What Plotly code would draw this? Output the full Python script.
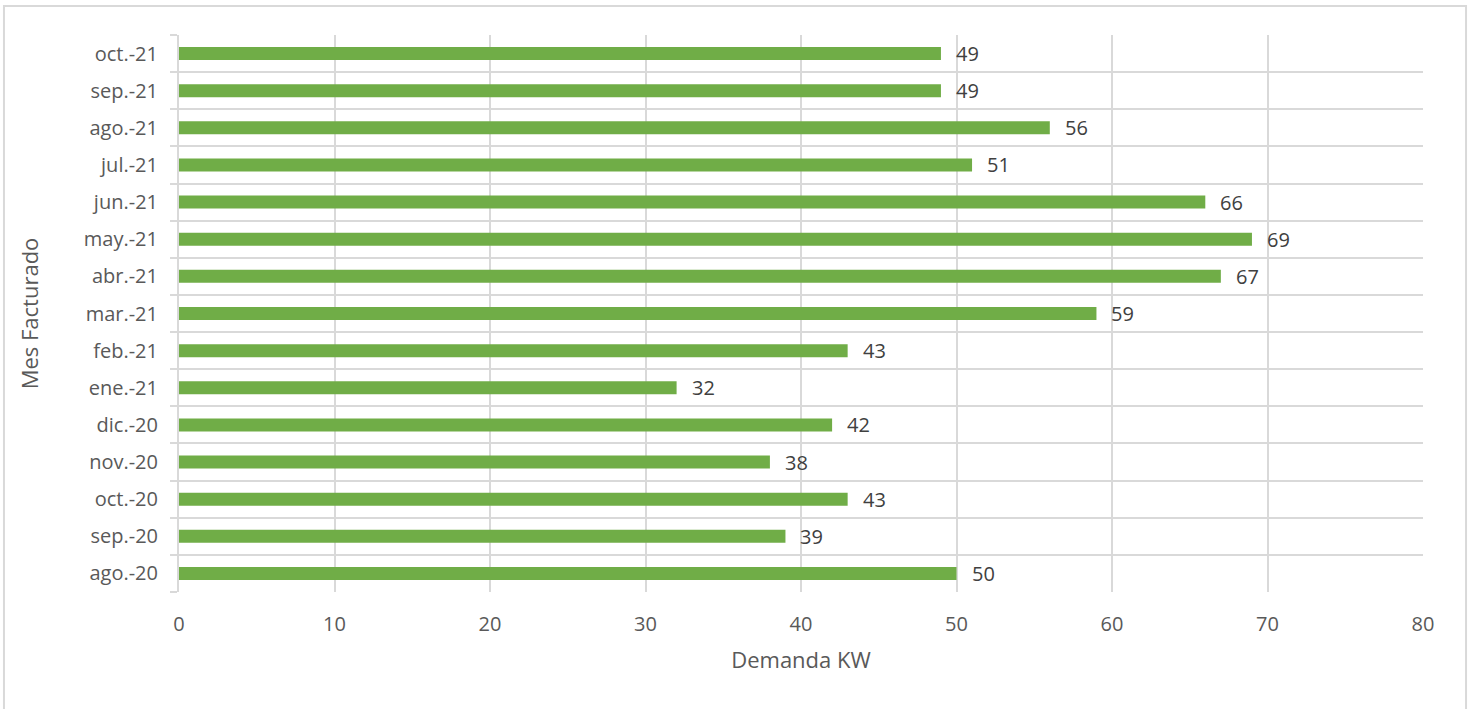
import plotly.graph_objects as go

# Monthly billed demand (kW), oldest month first
meses = ["ago.-20", "sep.-20", "oct.-20", "nov.-20", "dic.-20", "ene.-21", "feb.-21",
         "mar.-21", "abr.-21", "may.-21", "jun.-21", "jul.-21", "ago.-21", "sep.-21", "oct.-21"]
demanda_kw = [50, 39, 43, 38, 42, 32, 43, 59, 67, 69, 66, 51, 56, 49, 49]
x_ticks = [0, 10, 20, 30, 40, 50, 60, 70, 80]

FONT = "Open Sans, Segoe UI, sans-serif"
GRID = "#D9D9D9"
n = len(meses)
pos = list(range(n))

fig = go.Figure()
fig.add_trace(go.Bar(
    x=demanda_kw, y=pos, orientation="h",
    width=0.35,
    marker=dict(color="#70AD47", line=dict(width=0)),
    hoverinfo="x+text", hovertext=meses,
))

# value labels beside each bar
for v, p in zip(demanda_kw, pos):
    fig.add_annotation(x=v, y=p, text=str(v), showarrow=False,
                       xanchor="left", yanchor="middle", xshift=13,
                       font=dict(family=FONT, size=20, color="#404040"))

# outer chart frame
fig.add_shape(type="rect", xref="paper", yref="paper",
              x0=-0.1407, x1=1.0346, y0=-0.22, y1=1.052,
              line=dict(color=GRID, width=2), layer="below")

fig.update_layout(
    width=1473, height=709,
    margin=dict(l=179, r=50, t=35, b=117),
    paper_bgcolor="white", plot_bgcolor="white",
    showlegend=False,
    font=dict(family=FONT, color="#595959"),
    xaxis=dict(
        range=[0, 80], tickvals=x_ticks, showgrid=True, gridcolor=GRID, gridwidth=2,
        zeroline=False, showline=False, ticks="",
        tickfont=dict(size=20, color="#595959"), ticklabelstandoff=18,
        title=dict(text="Demanda KW", font=dict(size=22, color="#595959"), standoff=16),
    ),
    yaxis=dict(
        range=[-0.5, n - 0.5], tickmode="array", tickvals=pos, ticktext=meses,
        showgrid=False, zeroline=False, ticks="",
        showline=True, linecolor=GRID, linewidth=2,
        tickfont=dict(size=20, color="#595959"), ticklabelstandoff=15,
        minor=dict(tickmode="array", tickvals=[p - 0.5 for p in range(n + 1)],
                   showgrid=True, gridcolor=GRID, gridwidth=2,
                   ticks="outside", ticklen=7, tickcolor=GRID, tickwidth=2),
        title=dict(text="Mes Facturado", font=dict(size=22, color="#595959"), standoff=39),
    ),
)

fig.write_html("out.html")
